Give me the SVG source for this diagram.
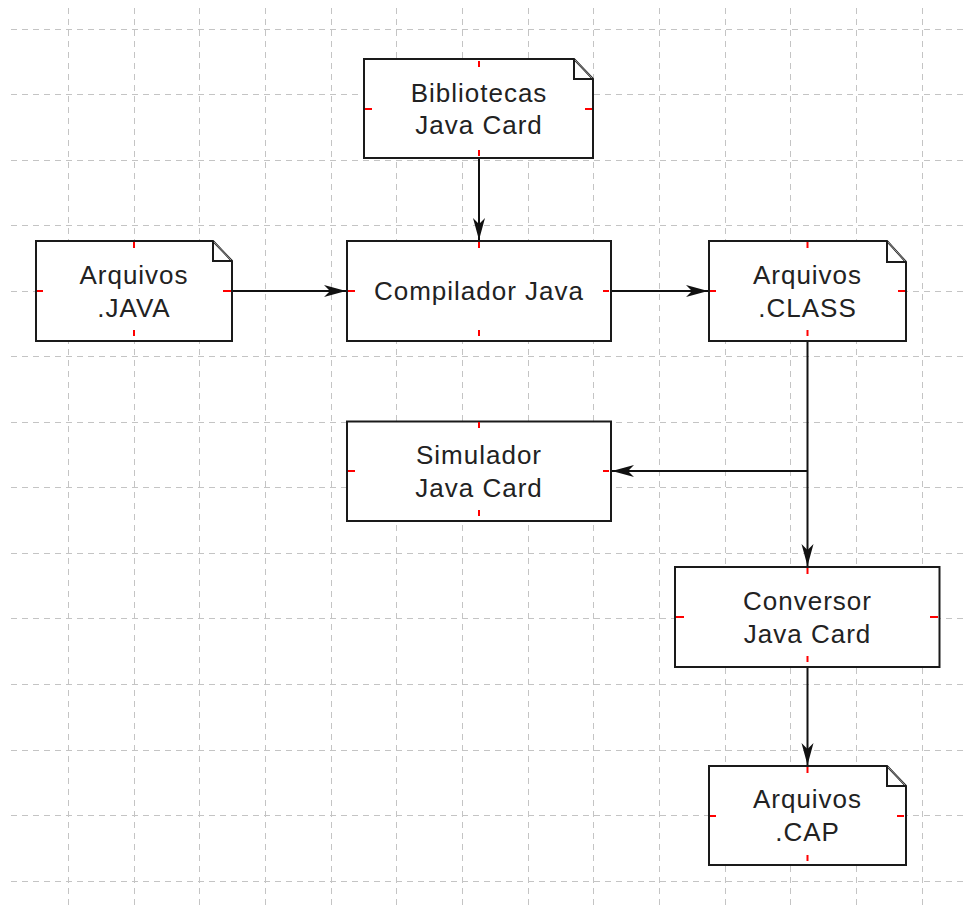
<svg xmlns="http://www.w3.org/2000/svg" width="966" height="906" viewBox="0 0 966 906">
<style>
.grid{stroke:#c4c4c4;stroke-width:1;stroke-dasharray:6 5;fill:none}
.box{fill:#fff;stroke:#1a1a1a;stroke-width:2}
.fold{fill:none;stroke:#1a1a1a;stroke-width:2}
.diag{fill:none;stroke:#a0a0a0;stroke-width:1}
.tick{stroke:#ff0000;stroke-width:2;fill:none}
.lbl{font-family:"Liberation Sans",Arial,sans-serif;font-size:26px;letter-spacing:1px;fill:#222;text-anchor:middle}
.conn{fill:none;stroke:#111;stroke-width:2}
</style>
<defs>
<marker id="arr" viewBox="-23 -7 24 14" markerWidth="24" markerHeight="14" refX="0" refY="0" markerUnits="userSpaceOnUse" orient="auto">
<path d="M0,0 L-22,-6 L-16,0 L-22,6 Z" fill="#111"/>
</marker>
</defs>
<rect width="966" height="906" fill="#fff"/>
<g id="grid">
<path class="grid" d="M11,29.5H966M11,94.5H966M11,160.5H966M11,225.5H966M11,291.5H966M11,356.5H966M11,422.5H966M11,487.5H966M11,553.5H966M11,618.5H966M11,684.5H966M11,750.5H966M11,815.5H966M11,881.5H966"/>
<path class="grid" d="M68.5,8V906M134.5,8V906M199.5,8V906M265.5,8V906M331.5,8V906M396.5,8V906M462.5,8V906M528.5,8V906M593.5,8V906M659.5,8V906M725.5,8V906M790.5,8V906M856.5,8V906M922.5,8V906"/>
</g>
<g id="connectors">
<path class="conn" d="M479,158V240" marker-end="url(#arr)"/>
<path class="conn" d="M232,291H346" marker-end="url(#arr)"/>
<path class="conn" d="M611,291H708" marker-end="url(#arr)"/>
<path class="conn" d="M807.5,341V566" marker-end="url(#arr)"/>
<path class="conn" d="M807.5,471H612" marker-end="url(#arr)"/>
<path class="conn" d="M807.5,667V765" marker-end="url(#arr)"/>
</g>
<g id="n-bibliotecas">
<path class="box" d="M364,59H574L593,79V158H364Z"/>
<path class="diag" d="M574,59L593,79"/>
<path class="fold" d="M574,59V79H593"/>
<path class="tick" d="M479,61V67M479,150V156M365,109H372M585,109H592"/>
<text class="lbl" x="479" y="101.5">Bibliotecas</text>
<text class="lbl" x="479" y="134">Java Card</text>
</g>
<g id="n-java">
<path class="box" d="M36,241H213L232,261V341H36Z"/>
<path class="diag" d="M213,241L232,261"/>
<path class="fold" d="M213,241V261H232"/>
<path class="tick" d="M134,242V248M134,330V336M37,291H43M223,291H231"/>
<text class="lbl" x="134" y="284">Arquivos</text>
<text class="lbl" x="134" y="317">.JAVA</text>
</g>
<g id="n-compilador">
<rect class="box" x="347" y="241" width="264" height="100"/>
<path class="tick" d="M479,242V248M479,330V336M348,291H355M603,291H609"/>
<text class="lbl" x="479" y="300">Compilador Java</text>
</g>
<g id="n-class">
<path class="box" d="M709,241H887L906,262V341H709Z"/>
<path class="diag" d="M887,241L906,262"/>
<path class="fold" d="M887,241V262H906"/>
<path class="tick" d="M807.5,242V248M807.5,330V336M710,291H716M898,291H905"/>
<text class="lbl" x="807.5" y="284">Arquivos</text>
<text class="lbl" x="807.5" y="317">.CLASS</text>
</g>
<g id="n-simulador">
<rect class="box" x="347" y="421.5" width="264" height="99.5"/>
<path class="tick" d="M479,422V428M479,510V516M348,471H355M603,471H609"/>
<text class="lbl" x="479" y="464">Simulador</text>
<text class="lbl" x="479" y="496.5">Java Card</text>
</g>
<g id="n-conversor">
<rect class="box" x="675" y="567" width="264.5" height="100"/>
<path class="tick" d="M807.5,568V574M807.5,656V662M676,617H684M930,617H938"/>
<text class="lbl" x="807.5" y="610">Conversor</text>
<text class="lbl" x="807.5" y="642.5">Java Card</text>
</g>
<g id="n-cap">
<path class="box" d="M709,766H887L906,786V865H709Z"/>
<path class="diag" d="M887,766L906,786"/>
<path class="fold" d="M887,766V786H906"/>
<path class="tick" d="M807.5,767V773M807.5,855V861M710,816H716M897,816H904"/>
<text class="lbl" x="807.5" y="808">Arquivos</text>
<text class="lbl" x="807.5" y="841">.CAP</text>
</g>
</svg>
